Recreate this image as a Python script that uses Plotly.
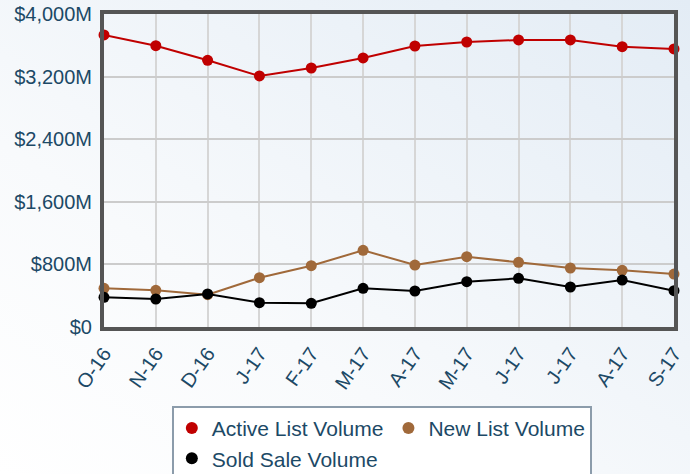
import plotly.graph_objects as go

months = ["O-16", "N-16", "D-16", "J-17", "F-17", "M-17", "A-17", "M-17", "J-17", "J-17", "A-17", "S-17"]
active_list = [3732, 3595, 3408, 3208, 3310, 3438, 3591, 3642, 3668, 3668, 3582, 3553]
new_list = [494, 469, 413, 630, 783, 980, 792, 898, 827, 754, 724, 677]
sold_sale = [380, 358, 422, 311, 303, 494, 460, 579, 622, 511, 600, 464]

y_tickvals = [0, 800, 1600, 2400, 3200, 4000]
y_ticktext = ["$0", "$800M", "$1,600M", "$2,400M", "$3,200M", "$4,000M"]

series = [
    ("Active List Volume", active_list, "#c00000"),
    ("New List Volume", new_list, "#a0693a"),
    ("Sold Sale Volume", sold_sale, "#000000"),
]

x_idx = list(range(len(months)))

fig = go.Figure()
for name, vals, col in series:
    fig.add_trace(go.Scatter(
        x=x_idx, y=vals, name=name, mode="lines",
        line=dict(color=col, width=2), legendgroup=name, showlegend=False,
        hoverinfo="skip",
    ))
    fig.add_trace(go.Scatter(
        x=x_idx, y=vals, name=name, mode="markers", legendgroup=name,
        marker=dict(color=col, size=11),
        cliponaxis=False,
    ))

bg_svg = ("data:image/svg+xml;utf8,"
          "<svg xmlns='http://www.w3.org/2000/svg' width='690' height='474'>"
          "<defs><linearGradient id='g' x1='0' y1='1' x2='1' y2='0'>"
          "<stop offset='0' stop-color='%23ffffff'/>"
          "<stop offset='0.35' stop-color='%23f8fafc'/>"
          "<stop offset='1' stop-color='%23e3ecf5'/></linearGradient></defs>"
          "<rect width='690' height='474' fill='url(%23g)'/></svg>")

navy = "#1c4966"
font_family = "Liberation Sans, Arial, sans-serif"

fig.update_layout(
    width=690, height=474,
    margin=dict(l=104, r=16, t=14, b=147, autoexpand=False),
    paper_bgcolor="#f2f6fa",
    plot_bgcolor="#ffffff",
    font=dict(family=font_family, size=20, color=navy),
    images=[dict(source=bg_svg, xref="paper", yref="paper", x=-104/570, y=1+14/313,
                 sizex=690/570, sizey=474/313, xanchor="left", yanchor="top",
                 sizing="stretch", layer="below")],
    showlegend=True,
    legend=dict(
        orientation="h",
        x=0.119, y=-0.252, xanchor="left", yanchor="top",
        bgcolor="#ffffff", bordercolor="#8c9cab", borderwidth=2,
        font=dict(family=font_family, size=21, color=navy),
        itemsizing="constant", tracegroupgap=0,
    ),
    xaxis=dict(
        range=[0, 11],
        tickvals=x_idx, ticktext=months,
        tickangle=-55,
        showgrid=True, gridcolor="#d6d6d6", gridwidth=1.5,
        showline=True, linecolor="#555555", linewidth=4, mirror=True,
        ticks="", zeroline=False, ticklabelstandoff=3,
        tickfont=dict(size=20, color=navy),
    ),
    yaxis=dict(
        range=[0, 4000],
        tickvals=y_tickvals, ticktext=y_ticktext,
        showgrid=True, gridcolor="#cccccc", gridwidth=1.5,
        showline=True, linecolor="#555555", linewidth=4, mirror=True,
        ticks="", zeroline=False, ticklabelstandoff=4,
        tickfont=dict(size=20, color=navy),
    ),
)

fig.write_html(
    "out.html",
    config={"displayModeBar": False},
    post_script="document.body.style.margin='0';document.body.style.overflow='hidden';",
)
